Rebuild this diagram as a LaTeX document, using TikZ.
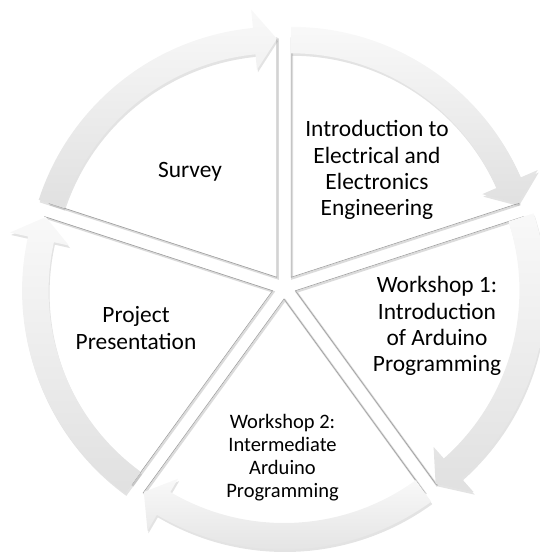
\documentclass[tikz,border=0pt]{standalone}
\usepackage{fontspec}
\setmainfont{Carlito}
\usetikzlibrary{shadows}

\tikzset{
  arrowband/.style={top color=gray!5, bottom color=gray!24, draw=none,
    drop shadow={opacity=0.22, shadow xshift=1pt, shadow yshift=-2.5pt}},
  segedge/.style={draw=gray!75, line width=0.6pt},
  segshadow/.style={draw=gray!28, line width=2pt},
  phase/.style={align=center, inner sep=0pt, font=\fontsize{23.4}{26.1}\selectfont},
}

\begin{document}
\begin{tikzpicture}[x=1pt, y=1pt]
    \useasboundingbox (-284,-265) rectangle (256,287);

    % Segment edges, each piece pushed out along its bisector
    \foreach \a [evaluate=\a as \m using \a-36, evaluate=\a as \e using \a-72] in {90,18,-54,-126,162}{
        \draw[segshadow, shift={(\m:12pt)}, xshift=1pt, yshift=-1.2pt] (\a:240pt) -- (0,0) -- (\e:240pt);
        \draw[segedge, shift={(\m:12pt)}] (\a:240pt) -- (0,0) -- (\e:240pt);
    }

    % Curved arrows round the ring
    \foreach \a [evaluate=\a as \m using \a-36, evaluate=\a as \e using \a-72, evaluate=\a as \b using \a-66.5] in {90,18,-54,-126,162}
        \path[arrowband, shift={(\m:12pt)}] (\a:250.5pt) arc[start angle=\a, end angle=\b, radius=250.5pt]
            -- (\b:269pt) -- (\e:238.5pt) -- (\b:208.5pt) -- (\b:224pt)
            arc[start angle=\b, end angle=\a, radius=224pt] -- cycle;

    % Labels
    \node[phase, anchor=base] (survey) at (-94,110) {Survey};
    \node[phase] (intro) at (93,117) {Introduction to\\Electrical and\\Electronics\\Engineering};
    \node[phase] (wsone) at (153,-39) {Workshop 1:\\Introduction\\of Arduino\\Programming};
    \node[phase, font=\fontsize{20.5}{23}\selectfont] (wstwo) at (-1.5,-170.4) {Workshop 2:\\Intermediate\\Arduino\\Programming};
    \node[phase] (project) at (-148,-41) {Project\\Presentation};

\end{tikzpicture}
\end{document}
